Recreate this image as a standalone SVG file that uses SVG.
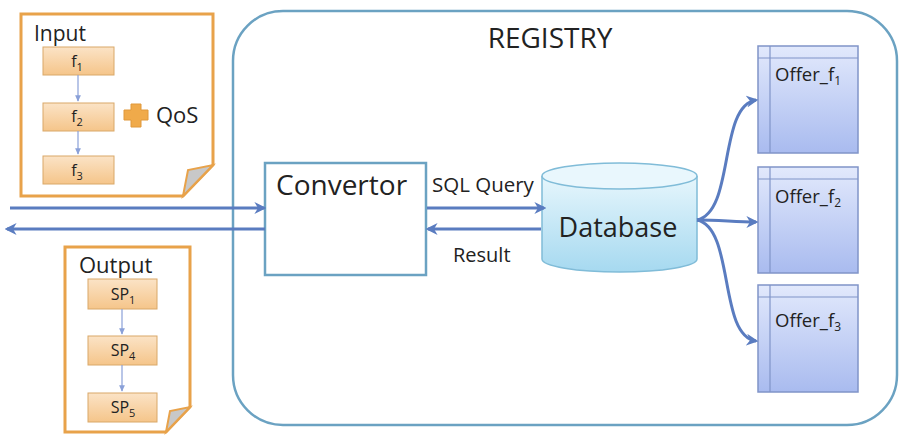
<svg xmlns="http://www.w3.org/2000/svg" width="904" height="440" viewBox="0 0 904 440">
<style>
.t{font-family:"Open Sans","Liberation Sans",sans-serif;fill:#222}
.doc{fill:#fff;stroke:#e8a24a;stroke-width:3}
.fbox{fill:url(#og);stroke:#d9a868;stroke-width:1}
.offer{fill:url(#bg);stroke:#8094c8;stroke-width:1.5}
.ol{stroke:#8094c8;stroke-width:1.2;fill:none}
.conn{stroke:#5a7cc0;stroke-width:3;fill:none}
.thin{stroke:#8aa0d8;stroke-width:1.2;fill:none}
</style>
<defs>
<linearGradient id="og" x1="0" y1="0" x2="0" y2="1"><stop offset="0" stop-color="#fbe3c6"/><stop offset="1" stop-color="#f5c58a"/></linearGradient>
<linearGradient id="bg" x1="0" y1="0" x2="0" y2="1"><stop offset="0" stop-color="#e2e9fc"/><stop offset="1" stop-color="#a9bbef"/></linearGradient>
<linearGradient id="cg" x1="0" y1="0" x2="0" y2="1"><stop offset="0" stop-color="#e6f6fc"/><stop offset="1" stop-color="#a6d9f0"/></linearGradient>
<marker id="ah" viewBox="0 0 10 10" refX="8" refY="5" markerWidth="4" markerHeight="4" orient="auto"><path d="M0,0 L10,5 L0,10 L3,5 z" fill="#5a7cc0"/></marker>
<marker id="sh" viewBox="0 0 10 10" refX="8" refY="5" markerWidth="6" markerHeight="6" orient="auto"><path d="M0,1 L9,5 L0,9 z" fill="#8aa0d8"/></marker>
</defs>

<g id="registry">
<rect x="233" y="11" width="664" height="414" rx="50" ry="50" fill="#fff" stroke="#6ba2c2" stroke-width="2.5"/>
<text class="t" x="550" y="48" font-size="28" text-anchor="middle">REGISTRY</text>
</g>

<g id="input">
<path class="doc" d="M21,14 H213 V165 L183,196 H21 Z"/>
<path d="M213,165 L183,196 L188,170 Z" fill="#c8c8c8" stroke="#e8a24a" stroke-width="2"/>
<text class="t" x="34" y="41" font-size="21">Input</text>
</g>
<g id="f1"><rect class="fbox" x="43" y="47" width="71" height="28"/><text class="t" x="77" y="67" font-size="16" text-anchor="middle">f<tspan font-size="11" dy="4">1</tspan></text></g>
<g id="f2"><rect class="fbox" x="43" y="103" width="71" height="28"/><text class="t" x="77" y="122" font-size="16" text-anchor="middle">f<tspan font-size="11" dy="4">2</tspan></text></g>
<g id="f3"><rect class="fbox" x="43" y="156" width="71" height="28"/><text class="t" x="77" y="176" font-size="16" text-anchor="middle">f<tspan font-size="11" dy="4">3</tspan></text></g>
<g id="qos">
<path d="M131,104 H141 V110 H148 V120 H141 V127 H131 V120 H124 V110 H131 Z" fill="#f0aa4a" stroke="#e0983a" stroke-width="1" stroke-linejoin="round"/>
<text class="t" x="156" y="123" font-size="22">QoS</text>
</g>

<g id="output">
<path class="doc" d="M65,247 H190 V407 L166,432 H65 Z"/>
<path d="M190,407 L166,432 L170,411 Z" fill="#c8c8c8" stroke="#e8a24a" stroke-width="2"/>
<text class="t" x="79" y="273" font-size="22">Output</text>
</g>
<g id="sp1"><rect class="fbox" x="88" y="279" width="69" height="30"/><text class="t" x="123" y="300" font-size="16" text-anchor="middle">SP<tspan font-size="11" dy="4">1</tspan></text></g>
<g id="sp4"><rect class="fbox" x="88" y="336" width="69" height="29"/><text class="t" x="123" y="356" font-size="16" text-anchor="middle">SP<tspan font-size="11" dy="4">4</tspan></text></g>
<g id="sp5"><rect class="fbox" x="88" y="393" width="69" height="29"/><text class="t" x="123" y="413" font-size="16" text-anchor="middle">SP<tspan font-size="11" dy="4">5</tspan></text></g>

<g id="convertor">
<rect x="265" y="163" width="161" height="112" fill="#fff" stroke="#6ba2c2" stroke-width="2.5"/>
<text class="t" x="276" y="195" font-size="28">Convertor</text>
</g>

<g id="database">
<path d="M542,176 V259 A77.5,13 0 0 0 697,259 V176" fill="url(#cg)" stroke="#80bcd8" stroke-width="1.5"/>
<ellipse cx="619.5" cy="176" rx="77.5" ry="13" fill="#e9f7fd" stroke="#80bcd8" stroke-width="1.5"/>
<text class="t" x="618" y="237" font-size="27" text-anchor="middle">Database</text>
</g>

<g id="offer1"><rect class="offer" x="758" y="46" width="100" height="107"/><line class="ol" x1="770" y1="46" x2="770" y2="153"/><line class="ol" x1="758" y1="58" x2="858" y2="58"/><text class="t" x="775" y="81" font-size="18.5">Offer_f<tspan font-size="12" dy="4">1</tspan></text></g>
<g id="offer2"><rect class="offer" x="758" y="167" width="100" height="106"/><line class="ol" x1="770" y1="167" x2="770" y2="273"/><line class="ol" x1="758" y1="179" x2="858" y2="179"/><text class="t" x="775" y="203" font-size="18.5">Offer_f<tspan font-size="12" dy="4">2</tspan></text></g>
<g id="offer3"><rect class="offer" x="758" y="285" width="100" height="107"/><line class="ol" x1="770" y1="285" x2="770" y2="392"/><line class="ol" x1="758" y1="297" x2="858" y2="297"/><text class="t" x="775" y="327" font-size="18.5">Offer_f<tspan font-size="12" dy="4">3</tspan></text></g>

<g id="connectors">
<line class="thin" x1="78" y1="75" x2="78" y2="101" marker-end="url(#sh)"/>
<line class="thin" x1="78" y1="131" x2="78" y2="154" marker-end="url(#sh)"/>
<line class="thin" x1="122" y1="309" x2="122" y2="334" marker-end="url(#sh)"/>
<line class="thin" x1="122" y1="365" x2="122" y2="391" marker-end="url(#sh)"/>
<line class="conn" x1="10" y1="208" x2="264" y2="208" marker-end="url(#ah)"/>
<line class="conn" x1="265" y1="229" x2="7" y2="229" marker-end="url(#ah)"/>
<line class="conn" x1="427" y1="208" x2="544" y2="208" marker-end="url(#ah)"/>
<line class="conn" x1="541" y1="229" x2="428" y2="229" marker-end="url(#ah)"/>
<text class="t" x="432" y="192" font-size="20.5">SQL Query</text>
<text class="t" x="453" y="262" font-size="20">Result</text>
<path class="conn" d="M697,220 C735,212 718,106 756,100" marker-end="url(#ah)"/>
<path class="conn" d="M697,220 C720,220 735,222 756,222" marker-end="url(#ah)"/>
<path class="conn" d="M697,220 C735,228 718,336 756,341" marker-end="url(#ah)"/>
</g>
</svg>
